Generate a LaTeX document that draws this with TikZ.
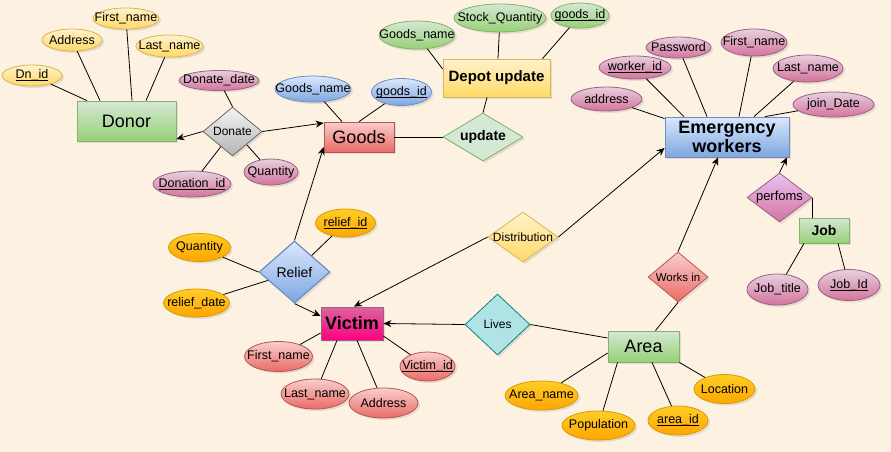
\documentclass[tikz,border=0pt]{standalone}
\usepackage{fontspec}
\setmainfont{Liberation Sans}
\usetikzlibrary{shapes.geometric,shadows,arrows.meta}

\definecolor{bg}{RGB}{253,242,226}
\definecolor{yTop}{HTML}{FFF2CC}\definecolor{yBot}{HTML}{FFD966}\definecolor{yStr}{HTML}{D6B656}
\definecolor{gTop}{HTML}{D5E8D4}\definecolor{gBot}{HTML}{97D077}\definecolor{gStr}{HTML}{82B366}
\definecolor{pTop}{HTML}{E6D0DE}\definecolor{pBot}{HTML}{D5739D}\definecolor{pStr}{HTML}{996185}
\definecolor{sTop}{HTML}{F5F5F5}\definecolor{sBot}{HTML}{B3B3B3}\definecolor{sStr}{HTML}{666666}
\definecolor{rTop}{HTML}{F8CECC}\definecolor{rBot}{HTML}{EA6B66}\definecolor{rStr}{HTML}{B85450}
\definecolor{bTop}{HTML}{DAE8FC}\definecolor{bBot}{HTML}{7EA6E0}\definecolor{bStr}{HTML}{6C8EBF}
\definecolor{oTop}{HTML}{FFCD28}\definecolor{oBot}{HTML}{FFA500}\definecolor{oStr}{HTML}{D79B00}
\definecolor{vTop}{RGB}{220,100,160}\definecolor{vBot}{HTML}{FF0080}
\definecolor{lFill}{HTML}{B0E3E6}\definecolor{lStr}{HTML}{0E8088}
\definecolor{fTop}{RGB}{232,195,242}\definecolor{fBot}{RGB}{213,115,160}

\newcommand\zw[1]{\makebox[0pt]{#1}}
\newcommand\fs[1]{\fontsize{#1}{#1}\selectfont}
\newcommand\keyul[1]{\setbox0\hbox{#1}\rlap{\rule[-2.5pt]{\wd0}{0.9pt}}\box0}

\begin{document}
\begin{tikzpicture}[x=1pt,y=-1pt,
  wh/.style 2 args={minimum width=#1pt, minimum height=#2pt},
  base/.style={draw, line width=0.8pt, inner sep=0pt,
    drop shadow={shadow xshift=2pt,shadow yshift=-2pt,opacity=0.2}},
  ell/.style={base, ellipse, font=\fs{12.5}},
  yell/.style={ell, top color=yTop, bottom color=yBot, draw=yStr},
  pell/.style={ell, top color=pTop, bottom color=pBot, draw=pStr},
  bell/.style={ell, top color=bTop, bottom color=bBot, draw=bStr},
  gell/.style={ell, top color=gTop, bottom color=gBot, draw=gStr},
  oell/.style={ell, top color=oTop, bottom color=oBot, draw=oStr},
  rell/.style={ell, top color=rTop, bottom color=rBot, draw=rStr},
  ent/.style={base, rectangle, align=center},
  rel/.style={base, diamond},
  con/.style={line width=0.8pt, draw=black},
  arr/.style={con, -{Stealth[length=8pt,width=7pt]}},
]
\fill[bg] (0,0) rectangle (891,452);
\useasboundingbox (0,0) rectangle (891,452);

% ---------- Donor ----------
\node[ent, wh={99}{40}, top color=gTop, bottom color=gBot, draw=gStr, font=\fs{18}] (donor) at (126.5,121) {Donor};
\node[yell, wh={60}{21}] (dnid) at (32,75.5) {\zw{\keyul{Dn\_id}}};
\node[yell, wh={60}{22}] (addrD) at (72,40) {\zw{Address}};
\node[yell, wh={66}{21}] (fnD) at (126,18.5) {\zw{First\_name}};
\node[yell, wh={67}{22}] (lnD) at (169.5,46) {\zw{Last\_name}};

\node[rel, wh={59}{49}, top color=sTop, bottom color=sBot, draw=sStr, font=\fs{12}] (donate) at (232.5,131.5) {\zw{Donate}};
\node[pell, wh={80}{20}] (ddate) at (219,80.5) {\zw{Donate\_date}};
\node[pell, wh={78}{26}] (donid) at (192,184) {\zw{\keyul{Donation\_id}}};
\node[pell, wh={54}{26}] (qtyD) at (271,172) {\zw{Quantity}};

% ---------- Goods ----------
\node[ent, wh={70}{30}, top color=rTop, bottom color=rBot, draw=rStr, font=\fs{18}] (goods) at (359,137) {Goods};
\node[bell, wh={76}{26}] (gnB) at (313,89) {\zw{Goods\_name}};
\node[bell, wh={60}{27}] (gidB) at (401.5,92) {\zw{\keyul{goods\_id}}};

\node[ent, wh={107}{38}, top color=yTop, bottom color=yBot, draw=yStr, font=\fs{15}\bfseries] (depot) at (496.5,78) {Depot update};
\node[rel, wh={80}{48}, fill=gTop, draw=gStr, font=\fs{14}\bfseries] (update) at (483,137) {\zw{update}};
\node[gell, wh={76}{28}] (gnG) at (417,35) {\zw{Goods\_name}};
\node[gell, wh={92}{28}] (stock) at (500,18) {\zw{Stock\_Quantity}};
\node[gell, wh={58}{25}] (gidG) at (580,15.5) {\zw{\keyul{goods\_id}}};

% ---------- Emergency workers ----------
\node[ent, wh={124}{40}, top color=bTop, bottom color=bBot, draw=bStr, font=\fs{18}\bfseries] (ew) at (727,137) {Emergency\\[1pt]workers};
\node[pell, wh={65}{21}] (pwd) at (678.5,47.5) {\zw{Password}};
\node[pell, wh={66}{27}] (fnP) at (754,42.5) {\zw{First\_name}};
\node[pell, wh={72}{23}] (wid) at (635,67.5) {\zw{\keyul{worker\_id}}};
\node[pell, wh={70}{27}] (lnP) at (808,68.5) {\zw{Last\_name}};
\node[pell, wh={71}{24}] (addrP) at (606.5,99) {\zw{address}};
\node[pell, wh={81}{25}] (jd) at (833.5,104.5) {\zw{join\_Date}};

\node[rel, wh={65}{49}, top color=fTop, bottom color=fBot, draw=pStr, font=\fs{13}] (perf) at (779.5,197.5) {\zw{perfoms}};
\node[ent, wh={50}{25}, top color=gTop, bottom color=gBot, draw=gStr, font=\fs{14}\bfseries] (job) at (824,230.5) {Job};
\node[pell, wh={61}{31}] (jtitle) at (777.5,289.5) {\zw{Job\_title}};
\node[pell, wh={62}{31}] (jid) at (849,285) {\zw{\keyul{Job\_Id}}};

% ---------- Area ----------
\node[ent, wh={71}{31}, top color=gTop, bottom color=gBot, draw=gStr, font=\fs{18}] (area) at (643.5,346.5) {Area};
\node[rel, wh={60}{50}, top color=rTop, bottom color=rBot, draw=rStr, font=\fs{11.5}] (works) at (678,277) {\zw{Works in}};
\node[rel, wh={65}{61}, fill=lFill, draw=lStr, font=\fs{12}] (lives) at (497.5,324.5) {\zw{Lives}};
\node[rel, wh={70}{50}, top color=yTop, bottom color=yBot, draw=yStr, font=\fs{12}] (dist) at (523,237) {\zw{Distribution}};
\node[oell, wh={73}{29}] (aname) at (541.5,395.5) {\zw{Area\_name}};
\node[oell, wh={73}{29}] (pop) at (598.5,425.5) {\zw{Population}};
\node[oell, wh={60}{29}] (aid) at (678,420.5) {\zw{\keyul{area\_id}}};
\node[oell, wh={61}{29}] (loc) at (724.5,389) {\zw{Location}};

% ---------- Victim ----------
\node[ent, wh={62}{33}, top color=vTop, bottom color=vBot, draw=pStr, font=\fs{18}\bfseries] (victim) at (352,323.5) {Victim};
\node[rel, wh={71}{62}, top color=bTop, bottom color=bBot, draw=bStr, line width=1.2pt, font=\fs{14}] (relief) at (294.5,272) {\zw{Relief}};
\node[oell, wh={60}{28}] (rid) at (345.5,223) {\zw{\keyul{relief\_id}}};
\node[oell, wh={62}{28}] (qtyO) at (199.5,247.5) {\zw{Quantity}};
\node[oell, wh={66}{28}] (rdate) at (196.5,303) {\zw{relief\_date}};
\node[rell, wh={68}{30}] (fnV) at (278.5,356.5) {\zw{First\_name}};
\node[rell, wh={68}{30}] (lnV) at (315,394) {\zw{Last\_name}};
\node[rell, wh={69}{30}] (addrV) at (383.5,403) {\zw{Address}};
\node[rell, wh={55}{29}] (vid) at (427.5,366.5) {\zw{\keyul{Victim\_id}}};

% ---------- connectors ----------
\draw[con] (dnid) -- ([xshift=-39.5pt]donor.north);
\draw[con] (addrD) -- ([xshift=-26.5pt]donor.north);
\draw[con] (fnD) -- ([xshift=5.5pt]donor.north);
\draw[con] (lnD) -- ([xshift=19.5pt]donor.north);
\draw[con] (ddate) -- (donate.north);
\draw[con] (donid) -- (donate);
\draw[con] (qtyD) -- ([xshift=14.5pt,yshift=-13.5pt]donate.center);
\draw[arr] (donate.west) -- ([yshift=-18pt]donor.east);
\draw[arr] (donate.east) -- ([yshift=14pt]goods.west);

\draw[con] (gnB) -- ([xshift=-17pt]goods.north);
\draw[con] (gidB) -- (goods.north);
\draw[con] (update.west) -- (goods.east);
\draw[con] ([xshift=-9.5pt]depot.south) -- (update.north);
\draw[con] (gnG) -- ([yshift=9pt]depot.west);
\draw[con] (stock) -- ([xshift=1.5pt]depot.north);
\draw[con] (gidG) -- ([xshift=46pt]depot.north);

\draw[con] (addrP) -- ([yshift=-2pt]ew.north west);
\draw[con] (wid) -- ([xshift=-43pt]ew.north);
\draw[con] (pwd) -- ([xshift=-20pt]ew.north);
\draw[con] (fnP) -- ([xshift=12pt]ew.north);
\draw[con] (lnP) -- ([xshift=27pt]ew.north);
\draw[con] (jd) -- ([xshift=38pt]ew.north);
\draw[arr] (dist.east) -- ([yshift=-11pt]ew.west);
\draw[arr] (works.north) -- ([xshift=-9pt]ew.south);
\draw[arr] (perf.north) -- ([xshift=60pt]ew.south);
\draw[con] (perf.east) -- (perf.east |- job.north);
\draw[con] (jtitle) -- ([xshift=-20pt]job.south);
\draw[con] (jid) -- ([xshift=14pt]job.south);

\draw[con] ([xshift=12pt]area.north) -- (works.south);
\draw[con] ([yshift=8.5pt]area.west) -- (lives.east);
\draw[arr] (lives.west) -- (victim.east);
\draw[con] (aname) -- ([yshift=-6.5pt]area.west);
\draw[con] (pop) -- ([xshift=-26pt]area.south);
\draw[con] (aid) -- ([xshift=8.5pt]area.south);
\draw[con] (loc) -- (area.south east);

\draw[arr] (dist.west) -- ([xshift=2pt]victim.north);
\draw[arr] (relief.south) -- ([yshift=7.5pt]victim.west);
\draw[arr] (relief.north) -- ([yshift=-10pt]goods.west);
\draw[con] (rid) -- (relief);
\draw[con] (qtyO) -- (relief.west);
\draw[con] (rdate) -- (relief);
\draw[con] (fnV) -- ([yshift=-9.5pt]victim.west);
\draw[con] (lnV) -- ([xshift=-15pt]victim.south);
\draw[con] (addrV) -- ([xshift=5pt]victim.south);
\draw[con] (vid) -- ([yshift=-12.5pt]victim.east);
\end{tikzpicture}
\end{document}
